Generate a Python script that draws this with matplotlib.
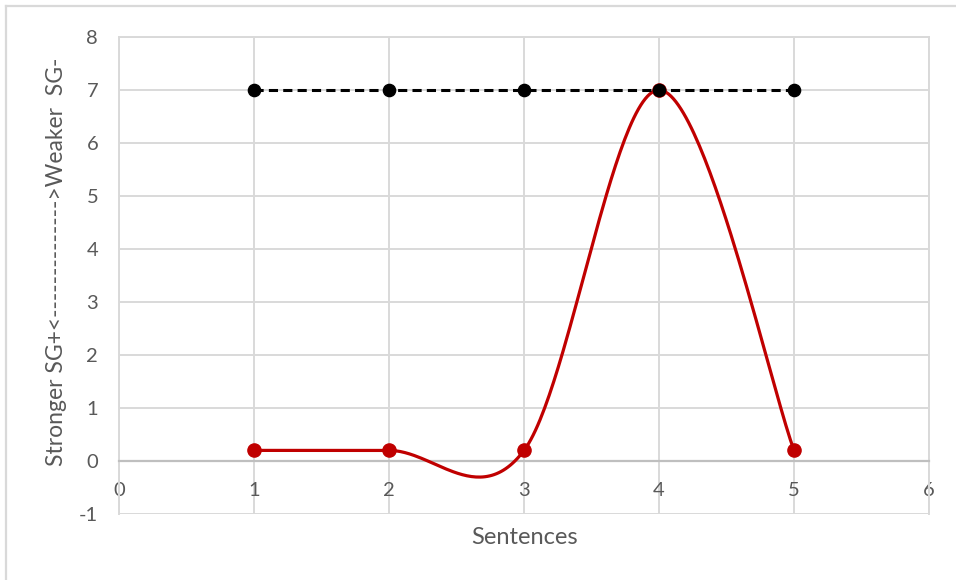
import numpy as np
import matplotlib
matplotlib.use('Agg')
import matplotlib.pyplot as plt
from matplotlib.lines import Line2D

sentences = [1, 2, 3, 4, 5]
baseline = [7, 7, 7, 7, 7]
strength = [0.2, 0.2, 0.2, 7, 0.2]

x_ticks = [0, 1, 2, 3, 4, 5, 6]
y_ticks = [-1, 0, 1, 2, 3, 4, 5, 6, 7, 8]

GRID = '#d9d9d9'
TEXT = '#595959'
RED = '#c00000'


def smooth(xs, ys, n=60):
    # bezier segments with catmull-rom style control points (spreadsheet "smoothed line")
    p = np.column_stack([xs, ys]).astype(float)
    out = []
    for i in range(len(p) - 1):
        p0 = p[i - 1] if i > 0 else p[i]
        p1 = p[i]
        p2 = p[i + 1]
        p3 = p[i + 2] if i + 2 < len(p) else p[i + 1]
        c1 = p1 + (p2 - p0) / 6.0
        c2 = p2 - (p3 - p1) / 6.0
        t = np.linspace(0, 1, n)[:, None]
        seg = ((1 - t) ** 3) * p1 + 3 * ((1 - t) ** 2) * t * c1 + 3 * (1 - t) * t ** 2 * c2 + t ** 3 * p2
        out.append(seg if i == 0 else seg[1:])
    out = np.vstack(out)
    return out[:, 0], out[:, 1]


plt.rcParams['font.family'] = ['Lato', 'DejaVu Sans']
plt.rcParams['axes.unicode_minus'] = False

fig = plt.figure(figsize=(9.56, 5.8), dpi=100)
ax = fig.add_axes([0.1245, 0.1138, 0.8473, 0.8224])

ax.set_xlim(0, 6)
ax.set_ylim(-1, 8)
ax.set_xticks(x_ticks)
ax.set_yticks(y_ticks)
ax.grid(True, color=GRID, linewidth=1.4, zorder=0)
ax.set_axisbelow(True)

for s in ['left', 'right', 'top']:
    ax.spines[s].set_color(GRID)
    ax.spines[s].set_linewidth(1.4)
ax.spines['bottom'].set_position(('data', 0))
ax.spines['bottom'].set_color('#bfbfbf')
ax.spines['bottom'].set_linewidth(1.6)

ax.tick_params(axis='both', length=0, labelsize=14.5, labelcolor=TEXT)
ax.tick_params(axis='x', pad=15)
ax.tick_params(axis='y', pad=15)

# red smoothed series
sx, sy = smooth(sentences, strength)
ax.plot(sx, sy, color=RED, linewidth=2.3, zorder=3, solid_capstyle='round')
ax.plot(sentences, strength, linestyle='none', marker='o', markersize=9.5,
        color=RED, zorder=4)

# black dashed series on top
ax.plot(sentences, baseline, color='black', linewidth=2.2, dashes=(3, 1.7),
        marker='o', markersize=8.8, zorder=5)

ax.set_xlabel('Sentences', fontsize=17, color=TEXT)
ax.xaxis.set_label_coords(0.5, -0.028)
ax.set_ylabel('Stronger SG+<-------------->Weaker  SG-', fontsize=16.5, color=TEXT)
ax.yaxis.set_label_coords(-0.064, 0.528)

# outer chart border
fig.add_artist(Line2D([6 / 956, 1], [1 - 6 / 580, 1 - 6 / 580], color=GRID,
                      linewidth=1.6, transform=fig.transFigure))
fig.add_artist(Line2D([6 / 956, 6 / 956], [0, 1 - 6 / 580], color=GRID,
                      linewidth=1.6, transform=fig.transFigure))

fig.savefig('out.png', dpi=100, facecolor='white')
